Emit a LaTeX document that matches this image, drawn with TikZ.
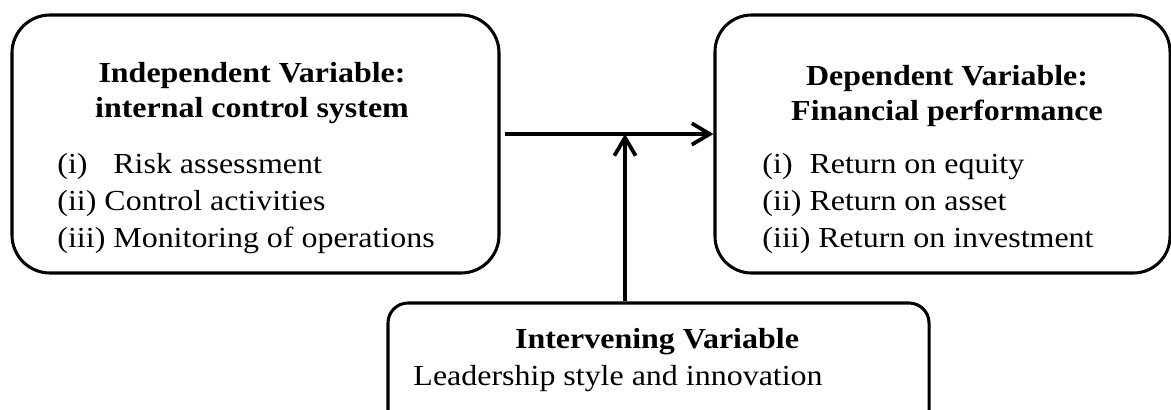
\documentclass[tikz,border=0pt]{standalone}
\usepackage{fontspec}
\setmainfont{Liberation Serif}[FakeStretch=1.1]
\usepackage{tikz}
\usetikzlibrary{arrows.meta,positioning}

\tikzset{
  varbox/.style={draw,line width=1.3pt,inner sep=0pt},
  headtext/.style={font=\bfseries\fontsize{12.4}{14.8}\selectfont,align=center,inner sep=0pt,anchor=base},
  itemtext/.style={font=\fontsize{12.4}{15.6}\selectfont,align=left,inner sep=0pt,anchor=base west},
  flow/.style={-{Straight Barb[length=0.27cm,width=0.32cm]},line width=1.6pt}
}

\begin{document}
\begin{tikzpicture}[x=0.015cm,y=-0.015cm]
\clip (0,0) rectangle (1171,409);

% the three boxes
\node[varbox,rounded corners=0.57cm,minimum width=7.305cm,minimum height=3.87cm] (indep) at (255.5,144) {};
\node[varbox,rounded corners=0.55cm,minimum width=6.825cm,minimum height=3.87cm] (dep) at (942.5,144) {};
\node[varbox,rounded corners=0.3cm,minimum width=8.115cm,minimum height=1.95cm] (interv) at (658.5,368) {};

% texts (base = last line)
\node[headtext] (indephead) at (252,117) {Independent Variable:\\internal control system};
\node[itemtext] (indepitems) at (57,247) {(i)\hphantom{ii} Risk assessment\\(ii) Control activities\\(iii) Monitoring of operations};

\node[headtext] (dephead) at (947,120) {Dependent Variable:\\Financial performance};
\node[itemtext] (depitems) at (762,247) {(i)\hphantom{i} Return on equity\\(ii) Return on asset\\(iii) Return on investment};

\node[headtext] (intervhead) at (657,348) {Intervening Variable};
\node[itemtext] (intervtext) at (413,385) {Leadership style and innovation};

% connectors
\coordinate (meet) at (625,134);
\draw[flow] ([xshift=0.06cm]indep.east |- meet) -- (dep.west |- meet);
\draw[flow] (interv.north -| meet) -- (meet);
\end{tikzpicture}
\end{document}
